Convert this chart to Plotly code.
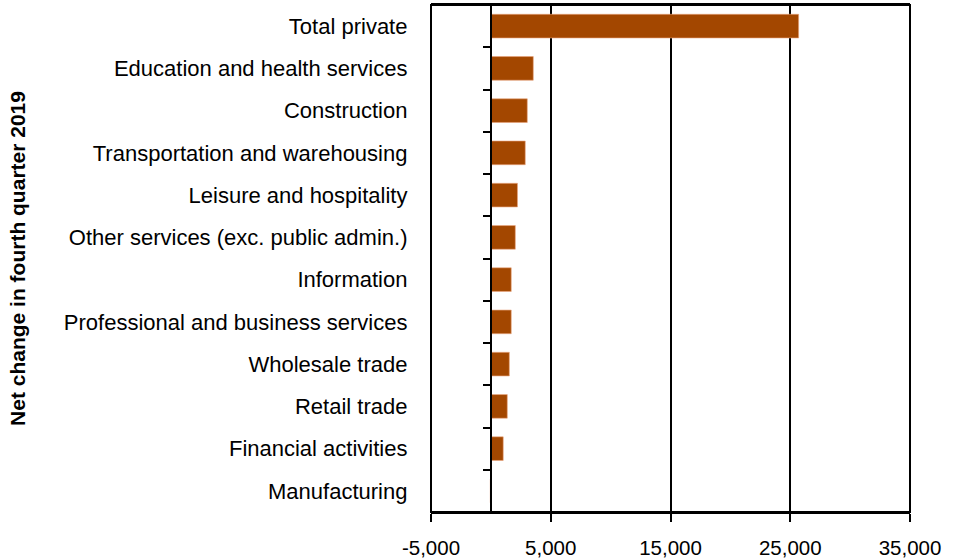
import plotly.graph_objects as go

categories = [
    "Total private",
    "Education and health services",
    "Construction",
    "Transportation and warehousing",
    "Leisure and hospitality",
    "Other services (exc. public admin.)",
    "Information",
    "Professional and business services",
    "Wholesale trade",
    "Retail trade",
    "Financial activities",
    "Manufacturing",
]
values = [25700, 3540, 3040, 2870, 2220, 2040, 1700, 1700, 1540, 1370, 1030, -50]

x_tickvals = [-5000, 5000, 15000, 25000, 35000]
x_ticktext = ["-5,000", "5,000", "15,000", "25,000", "35,000"]
x_range = [-5000, 35000]
y_title = "Net change in fourth quarter 2019"

FONT = "Liberation Sans, Arial, sans-serif"
BAR = "#A34700"
LW = 2

fig = go.Figure()
fig.add_trace(go.Bar(
    x=values, y=categories, orientation="h",
    marker=dict(color=BAR, line=dict(color="#E9A27A", width=0.6)),
    width=0.56, hoverinfo="x+y",
))

zero_pos = (0 - x_range[0]) / (x_range[1] - x_range[0])

fig.update_layout(
    width=954, height=558,
    margin=dict(l=431, r=44, t=5, b=46, autoexpand=False),
    paper_bgcolor="white", plot_bgcolor="white",
    showlegend=False,
    font=dict(family=FONT, color="black", size=22),
    xaxis=dict(
        range=x_range, tickvals=x_tickvals, ticktext=x_ticktext,
        showgrid=True, gridcolor="black", gridwidth=LW,
        zeroline=False, showline=True, linecolor="black", linewidth=LW,
        mirror=True, automargin=False,
        ticks="outside", ticklen=8, tickwidth=LW, tickcolor="black",
        ticklabelstandoff=8,
        tickfont=dict(family=FONT, size=20.5),
    ),
    yaxis=dict(
        anchor="free", position=zero_pos, automargin=False,
        autorange="reversed", type="category",
        categoryorder="array", categoryarray=categories,
        showline=True, linecolor="black", linewidth=LW,
        ticks="outside", ticklen=7, tickwidth=LW, tickcolor="black",
        tickson="boundaries", showgrid=False, zeroline=False,
        ticklabelstandoff=78,
        tickfont=dict(family=FONT, size=22),
        title=dict(text="<b>" + y_title + "</b>", font=dict(family=FONT, size=21), standoff=31),
    ),
    shapes=[dict(type="rect", xref="paper", yref="paper", x0=0, x1=1, y0=0, y1=1,
                 line=dict(color="black", width=LW), layer="above")],
)

fig.write_html("out.html", config={"displayModeBar": False},
               post_script="document.body.style.margin='0';")
